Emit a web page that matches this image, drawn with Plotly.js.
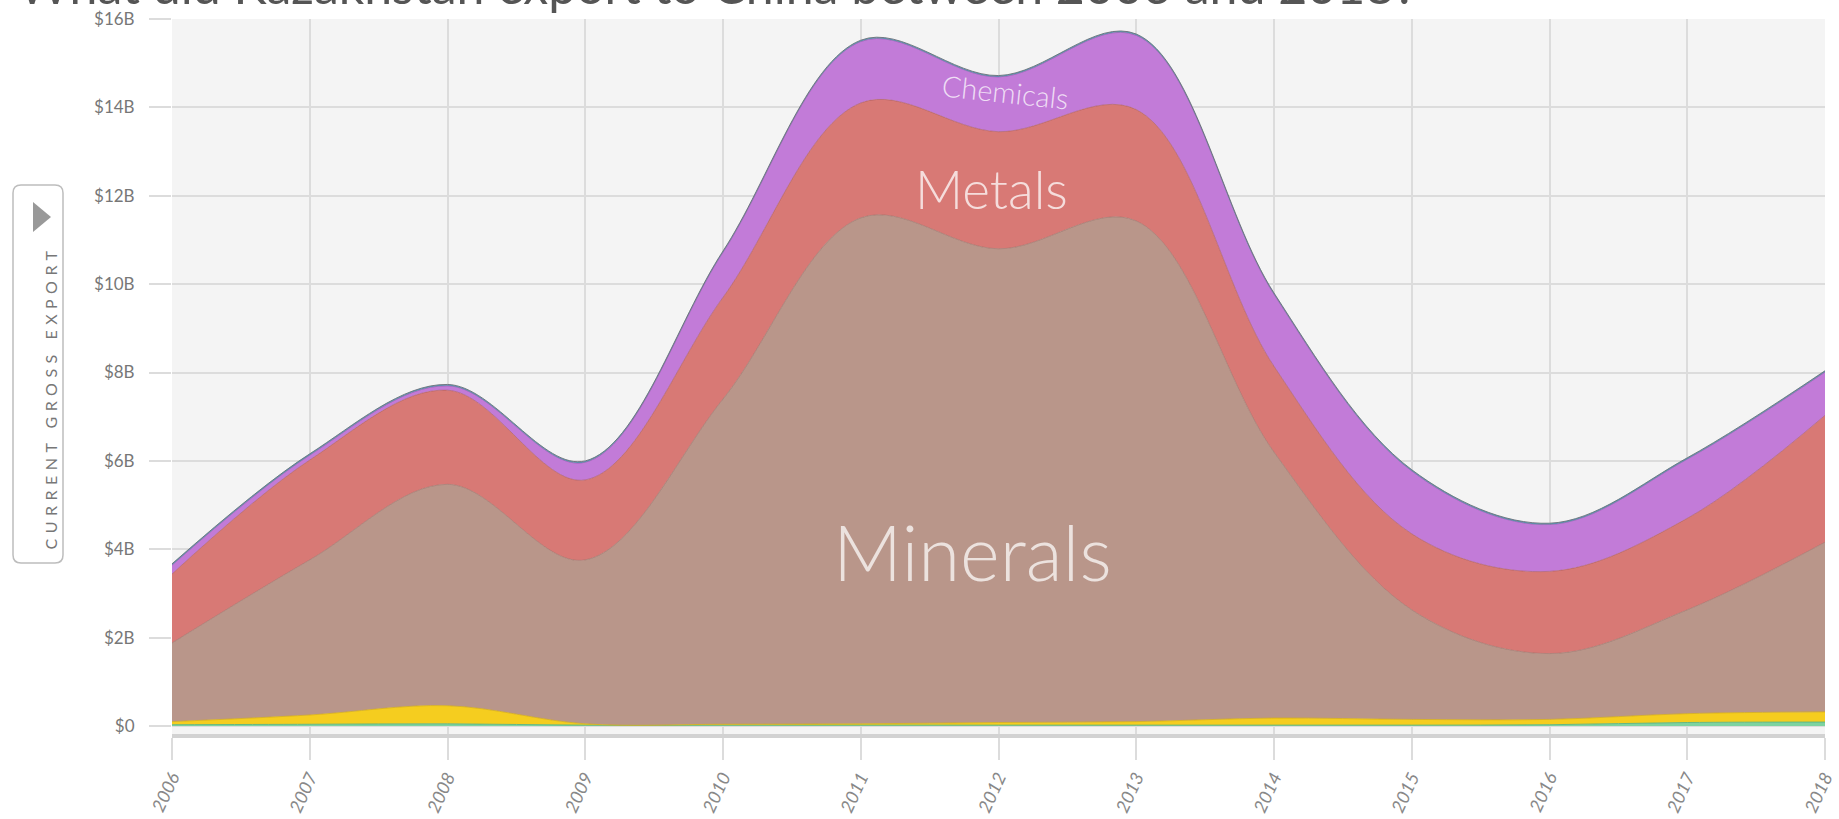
<!DOCTYPE html>
<html>
<head>
<meta charset="utf-8">
<script src="https://cdn.plot.ly/plotly-3.0.1.min.js"></script>
<style>
  html, body { margin: 0; padding: 0; background: #ffffff; }
  #chart { width: 1839px; height: 819px; }
</style>
</head>
<body>
<div id="chart"></div>
<script>
// ---- data (billions of USD) ----
const years = [2006, 2007, 2008, 2009, 2010, 2011, 2012, 2013, 2014, 2015, 2016, 2017, 2018];
const yearLabels = ["2006", "2007", "2008", "2009", "2010", "2011", "2012", "2013", "2014", "2015", "2016", "2017", "2018"];
const vegetableProducts = [0.03, 0.04, 0.05, 0.02, 0.02, 0.02, 0.02, 0.02, 0.02, 0.02, 0.03, 0.08, 0.09];
const animalHides      = [0.07, 0.21, 0.41, 0.03, 0.02, 0.03, 0.06, 0.08, 0.16, 0.13, 0.12, 0.20, 0.23];
const minerals         = [1.78, 3.51, 5.01, 3.71, 7.36, 11.45, 10.72, 11.33, 6.02, 2.48, 1.49, 2.35, 3.84];
const metals           = [1.56, 2.26, 2.13, 1.81, 2.30, 2.60, 2.65, 2.52, 1.94, 1.72, 1.86, 2.07, 2.87];
const chemicals        = [0.20, 0.11, 0.10, 0.40, 1.02, 1.39, 1.24, 1.68, 1.63, 1.42, 1.06, 1.34, 0.98];
const machines         = [0.03, 0.03, 0.03, 0.03, 0.03, 0.03, 0.03, 0.03, 0.03, 0.03, 0.03, 0.03, 0.03];
const yTickVals = [0, 2, 4, 6, 8, 10, 12, 14, 16];
const yTickText = ["$0", "$2B", "$4B", "$6B", "$8B", "$10B", "$12B", "$14B", "$16B"];

const FONT = "Lato, 'Open Sans', 'DejaVu Sans', sans-serif";

function layer(name, vals, fill, line) {
  return {
    type: "scatter", mode: "lines", name: name,
    x: years, y: vals, stackgroup: "one",
    line: { shape: "spline", smoothing: 1, width: 1, color: line },
    fillcolor: fill, hoverinfo: "x+y+name"
  };
}

const traces = [
  layer("Vegetable Products", vegetableProducts, "#7dd3a0", "rgba(90,180,130,0.9)"),
  layer("Animal Hides", animalHides, "#f5cd1f", "rgba(215,175,20,0.8)"),
  layer("Minerals", minerals, "#b9968a", "rgba(150,115,105,0.6)"),
  layer("Metals", metals, "#d87975", "rgba(170,90,90,0.6)"),
  layer("Chemicals", chemicals, "#c27bd8", "rgba(140,80,160,0.6)"),
  layer("Machines", machines, "#4aa9bd", "rgba(110,110,120,0.9)")
];

// pixel helpers for page furniture (plot area: x 172..1825, y 19..734)
const PL = 172, PR = 1825, PT = 19, PB = 734;
const px = v => (v - PL) / (PR - PL);
const py = v => (PB - v) / (PB - PT);

function roundRect(x0, y0, x1, y1, r) {
  const p = (x, y) => px(x) + "," + py(y);
  return "M" + p(x0 + r, y0) + " L" + p(x1 - r, y0) + " Q" + p(x1, y0) + " " + p(x1, y0 + r) +
    " L" + p(x1, y1 - r) + " Q" + p(x1, y1) + " " + p(x1 - r, y1) +
    " L" + p(x0 + r, y1) + " Q" + p(x0, y1) + " " + p(x0, y1 - r) +
    " L" + p(x0, y0 + r) + " Q" + p(x0, y0) + " " + p(x0 + r, y0) + " Z";
}
function tri(x0, y0, x1, y1) {
  return "M" + px(x0) + "," + py(y0) + " L" + px(x1) + "," + py((y0 + y1) / 2) + " L" + px(x0) + "," + py(y1) + " Z";
}

const layout = {
  width: 1839, height: 819,
  margin: { l: PL, r: 1839 - PR, t: PT, b: 819 - PB, pad: 0 },
  paper_bgcolor: "#ffffff",
  plot_bgcolor: "#f4f4f4",
  showlegend: false,
  font: { family: FONT, color: "#777" },
  xaxis: {
    range: [2006, 2018], tickvals: years, ticktext: yearLabels,
    tickangle: -65, tickfont: { family: FONT, size: 18, color: "#888", style: "italic" },
    showgrid: true, gridcolor: "#dcdcdc", gridwidth: 1.5,
    ticks: "outside", ticklen: 22, tickcolor: "#dcdcdc", tickwidth: 1.5,
    showline: true, linecolor: "#d2d2d2", linewidth: 4,
    zeroline: false, fixedrange: true
  },
  yaxis: {
    range: [-0.18, 16], tickvals: yTickVals, ticktext: yTickText,
    tickfont: { family: FONT, size: 17, color: "#777" },
    showgrid: true, gridcolor: "#dcdcdc", gridwidth: 1.5,
    ticks: "outside", ticklen: 22, tickcolor: "#dcdcdc", tickwidth: 1.5,
    ticklabelstandoff: 11,
    showline: false, zeroline: false, fixedrange: true
  },
  shapes: [
    { type: "path", xref: "paper", yref: "paper", path: roundRect(13, 185, 63, 563, 8),
      line: { color: "#bdbdbd", width: 1.5 }, fillcolor: "#ffffff", layer: "above" },
    { type: "path", xref: "paper", yref: "paper", path: tri(33, 202, 51, 232),
      line: { width: 0 }, fillcolor: "#999999", layer: "above" }
  ],
  annotations: [
    { text: "What did Kazakhstan export to China between 2006 and 2018?",
      xref: "paper", yref: "paper", x: px(16), y: py(17), xanchor: "left", yanchor: "bottom",
      showarrow: false, font: { family: FONT, size: 50, color: "#555" } },
    { text: "CURRENT GROSS EXPORT", xref: "paper", yref: "paper",
      x: px(38), y: py(397), textangle: -90, showarrow: false,
      font: { family: FONT, size: 16, color: "#777" } },
    { text: "Minerals", x: 2011.81, y: 3.96, showarrow: false,
      font: { family: FONT, size: 76, color: "rgba(255,255,255,0.72)", weight: 300 } },
    { text: "Metals", x: 2011.95, y: 12.17, showarrow: false,
      font: { family: FONT, size: 53, color: "rgba(255,255,255,0.75)", weight: 300 } },
    { text: "Chemicals", x: 2012.05, y: 14.37, showarrow: false, textangle: 6,
      font: { family: FONT, size: 29, color: "rgba(255,255,255,0.75)", weight: 300 } }
  ]
};

Plotly.newPlot("chart", traces, layout, { displayModeBar: false }).then(function () {
  document.querySelectorAll(".annotation-text").forEach(function (t) {
    if (t.textContent === "CURRENT GROSS EXPORT") {
      t.style.letterSpacing = "5.5px";
    }
  });
});
</script>
</body>
</html>
